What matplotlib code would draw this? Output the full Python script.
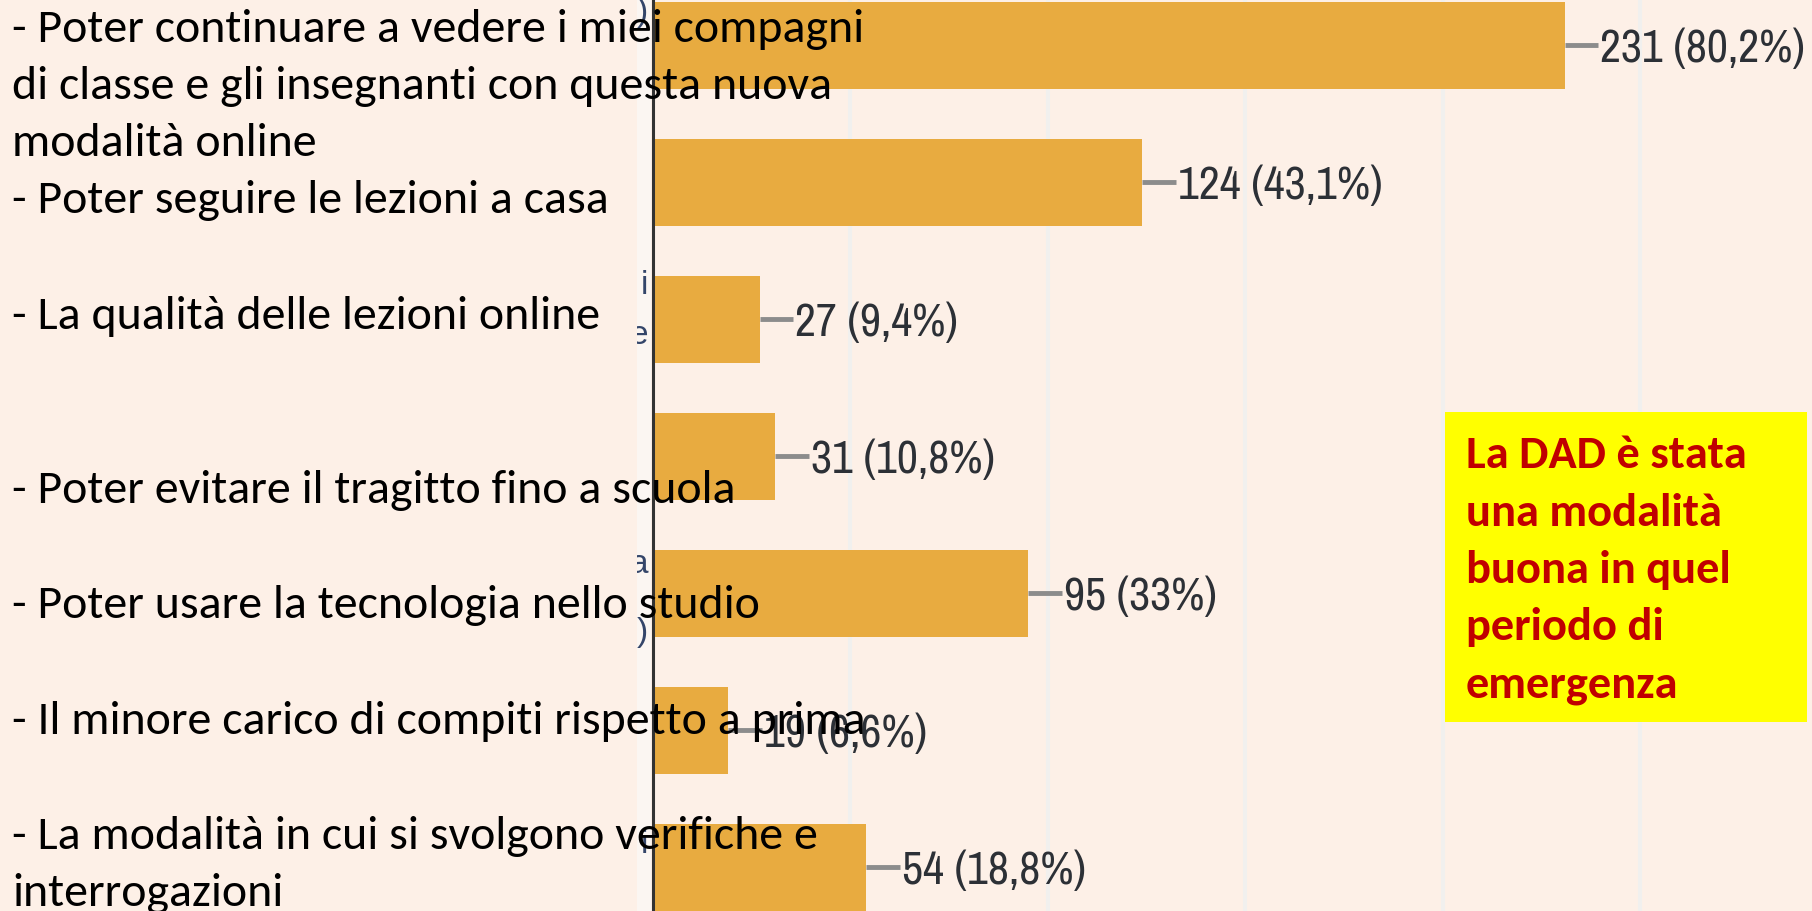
# Grafico a barre orizzontali: aspetti positivi della DAD
import matplotlib
matplotlib.use("Agg")
import matplotlib.pyplot as plt
from matplotlib.patches import Rectangle

# Dati del grafico
risposte = [231, 124, 27, 31, 95, 19, 54]
percentuali = [80.2, 43.1, 9.4, 10.8, 33, 6.6, 18.8]

# Testi sovrapposti a sinistra (righe)
righe_testo = [
    "- Poter continuare a vedere i miei compagni",
    "di classe e gli insegnanti con questa nuova",
    "modalità online",
    "- Poter seguire le lezioni a casa",
    "- La qualità delle lezioni online",
    "- Poter evitare il tragitto fino a scuola",
    "- Poter usare la tecnologia nello studio",
    "- Il minore carico di compiti rispetto a prima",
    "- La modalità in cui si svolgono verifiche e",
    "interrogazioni",
]
nota = ["La DAD è stata", "una modalità", "buona in quel", "periodo di", "emergenza"]
# pezzi delle etichette originali che spuntano a sinistra dell'asse
frammenti = [")", "i", "e", "a", ")", "i"]

# Colori e font
sfondo = "#fdf0e7"
arancio = "#e8ab40"
font_testo = ["Carlito", "Lato", "DejaVu Sans"]
font_valori = ["Arial Narrow", "Archivo Narrow", "Roboto Condensed",
               "PT Sans Narrow", "IBM Plex Sans Condensed", "DejaVu Sans"]

W, H = 1812, 912
fig = plt.figure(figsize=(W / 100, H / 100), dpi=100)
fig.patch.set_facecolor(sfondo)

ax = fig.add_axes([653 / W, 0, 1 - 653 / W, 1])
ax.set_facecolor(sfondo)

pos = list(range(len(risposte)))
ax.barh(pos, risposte, height=0.635, color=arancio, zorder=2)

ax.set_xlim(0, 293.6)
ax.set_ylim(6.32, -0.336)
ax.set_xticks([50, 100, 150, 200, 250])
ax.set_yticks([])
ax.tick_params(axis="x", length=0, labelbottom=False)
ax.grid(axis="x", color="#f1f0ee", linewidth=3, zorder=0)
for s in ["top", "right", "bottom"]:
    ax.spines[s].set_visible(False)
ax.spines["left"].set_color("#333333")
ax.spines["left"].set_linewidth(2.2)
ax.spines["left"].set_zorder(3)

# Etichette dei valori con trattino
for i, (v, p) in enumerate(zip(risposte, percentuali)):
    ax.plot([v, v + 8.5], [i, i], color="#8c8c8c", linewidth=3.5, zorder=3,
            solid_capstyle="butt")
    ptxt = str(p).replace(".", ",")
    ax.text(v + 9.0, i + 0.02, f"{v} ({ptxt}%)", va="center", ha="left",
            fontsize=33, color="#2c3036", family=font_valori, zorder=4)

# Striscia chiara a sinistra dell'asse con i frammenti delle vecchie etichette
striscia = Rectangle((637 / W, 0), 14 / W, 1, transform=fig.transFigure,
                     facecolor="#fbf6f2", edgecolor="none", zorder=1)
fig.patches.append(striscia)
y_frammenti = [12, 285, 335, 565, 632, 845]
for f, y in zip(frammenti, y_frammenti):
    t = fig.text(648 / W, 1 - y / H, f, fontsize=24, color="#34466a",
                 family=["Liberation Sans", "DejaVu Sans"],
                 va="center", ha="right", zorder=2)
    t.set_clip_path(striscia)

# Testi a sinistra (sopra a tutto)
basi = [42, 99, 156, 213, 329, 503, 618, 734, 849, 906]
for t, y in zip(righe_testo, basi):
    fig.text(12 / W, 1 - y / H, t, fontsize=34.5, color="black",
             family=font_testo, va="baseline", ha="left", zorder=10)

# Riquadro giallo
fig.patches.append(Rectangle((1445 / W, 1 - 723 / H), 362 / W, 310 / H,
                             transform=fig.transFigure, facecolor="#ffff00",
                             edgecolor="none", zorder=5))
basi_nota = [468, 526, 583, 640, 698]
for t, y in zip(nota, basi_nota):
    fig.text(1466 / W, 1 - y / H, t, fontsize=33.5, color="#c00000",
             fontweight="bold", family=font_testo,
             va="baseline", ha="left", zorder=11)

fig.savefig("out.png", dpi=100, facecolor=sfondo)
